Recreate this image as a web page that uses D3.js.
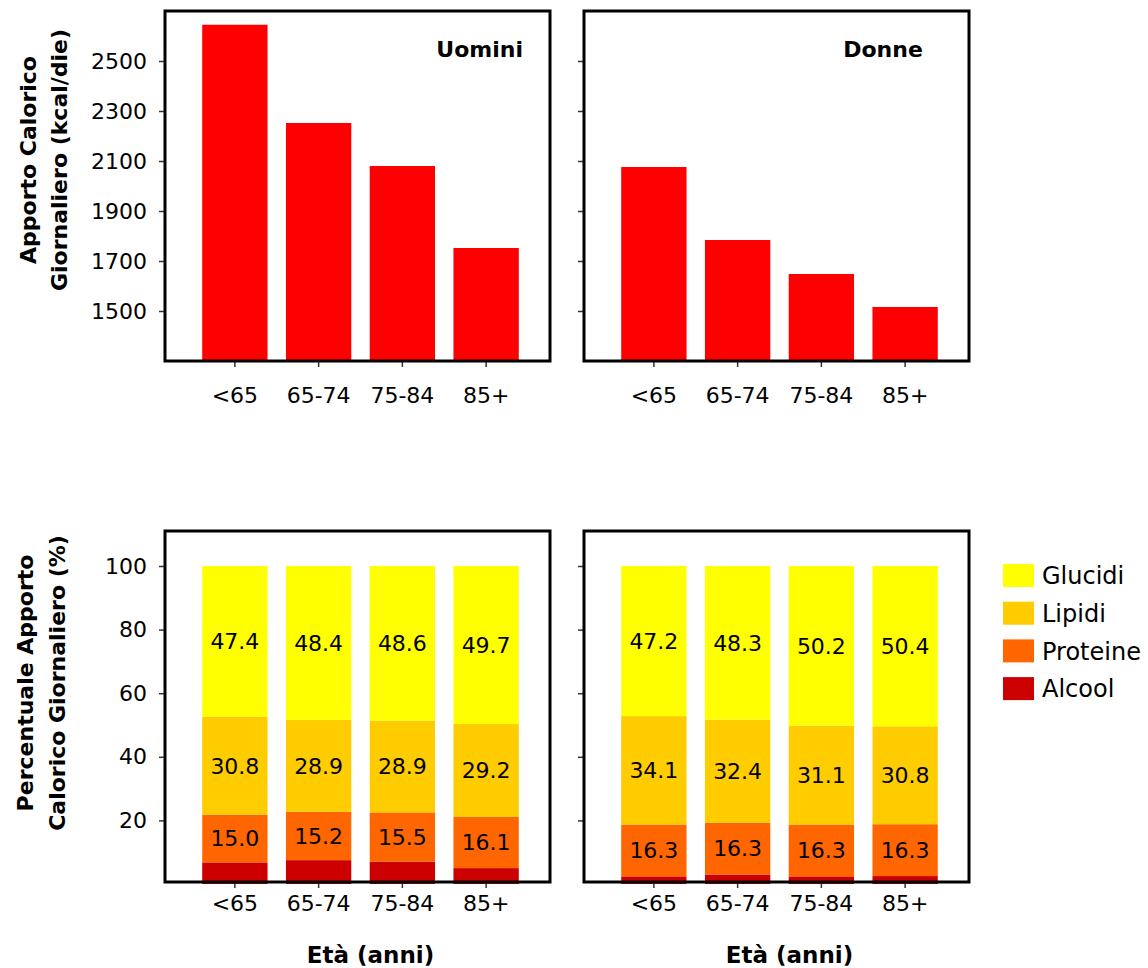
<!DOCTYPE html>
<html>
<head>
<meta charset="utf-8">
<script src="https://cdn.jsdelivr.net/npm/d3@7"></script>
<style>
  body { margin: 0; background: #fff; }
  svg { display: block; }
</style>
</head>
<body>
<svg id="chart" width="1148" height="968"></svg>
<script>
// Age groups on the x axis
const ageGroups = ["<65", "65-74", "75-84", "85+"];

// Daily energy intake (kcal/die)
const kcalMen   = [2645, 2252, 2080, 1752];
const kcalWomen = [2076, 1784, 1648, 1516];
const kcalTicks = [1500, 1700, 1900, 2100, 2300, 2500];

// Share of daily energy intake by source (%), stacked bottom-up
const nutrients = ["Alcool", "Proteine", "Lipidi", "Glucidi"];
const alcoolMen    = [6.8, 7.5, 7.0, 5.0];
const proteineMen  = [15.0, 15.2, 15.5, 16.1];
const lipidiMen    = [30.8, 28.9, 28.9, 29.2];
const glucidiMen   = [47.4, 48.4, 48.6, 49.7];
const alcoolWomen   = [2.4, 3.0, 2.4, 2.5];
const proteineWomen = [16.3, 16.3, 16.3, 16.3];
const lipidiWomen   = [34.1, 32.4, 31.1, 30.8];
const glucidiWomen  = [47.2, 48.3, 50.2, 50.4];
const pctTicks = [20, 40, 60, 80, 100];

const nutrientColor = d3.scaleOrdinal()
  .domain(nutrients)
  .range(["#cc0000", "#ff6600", "#ffcc00", "#ffff00"]);
const labelled = new Set(["Proteine", "Lipidi", "Glucidi"]);

const svg = d3.select("#chart");
svg.append("rect").attr("width", 1148).attr("height", 968).attr("fill", "#fff");

const tickFont = "Verdana, 'DejaVu Sans', sans-serif";
const titleFont = "'Comic Sans MS', 'DejaVu Sans', sans-serif";

const panelsX = [{ x0: 165, x1: 550 }, { x0: 584, x1: 969 }];
const topY = { y0: 11, y1: 361 };
const botY = { y0: 531, y1: 882 };

function bandFor(p) {
  return d3.scaleBand(ageGroups, [p.x0 + 28, p.x0 + 363])
    .paddingInner(0.22).paddingOuter(0.11);
}

function styleAxis(g, fontSize) {
  g.select(".domain").remove();
  g.selectAll(".tick line").attr("stroke", "#333").attr("stroke-width", 1.5);
  g.selectAll(".tick text")
    .attr("fill", "#000")
    .style("font-family", tickFont)
    .style("font-size", fontSize + "px");
}

function frame(p, yr) {
  svg.append("rect")
    .attr("x", p.x0).attr("y", yr.y0)
    .attr("width", p.x1 - p.x0).attr("height", yr.y1 - yr.y0)
    .attr("fill", "none").attr("stroke", "#000").attr("stroke-width", 3);
}

// ---------- Top row: energy intake ----------
const yKcal = d3.scaleLinear([1300, 2700], [topY.y1, topY.y0]);
[kcalMen, kcalWomen].forEach((vals, i) => {
  const p = panelsX[i];
  const x = bandFor(p);
  svg.append("g").selectAll("rect")
    .data(ageGroups.map((g, j) => ({ g, v: vals[j] })))
    .join("rect")
    .attr("x", d => x(d.g))
    .attr("width", x.bandwidth())
    .attr("y", d => yKcal(d.v))
    .attr("height", d => yKcal(1300) - yKcal(d.v))
    .attr("fill", "#ff0000");

  const ay = svg.append("g").attr("transform", `translate(${p.x0},0)`)
    .call(d3.axisLeft(yKcal).tickValues(kcalTicks).tickSize(6).tickPadding(12)
      .tickFormat(i === 0 ? d3.format("d") : () => ""));
  styleAxis(ay, 22);

  const ax = svg.append("g").attr("transform", `translate(0,${topY.y1})`)
    .call(d3.axisBottom(x).tickSize(6).tickPadding(20));
  styleAxis(ax, 22);

  frame(p, topY);
});

svg.append("text").attr("x", 523).attr("y", 57).attr("text-anchor", "end")
  .style("font-family", titleFont).style("font-weight", "bold").style("font-size", "22px")
  .text("Uomini");
svg.append("text").attr("x", 883).attr("y", 57).attr("text-anchor", "middle")
  .style("font-family", titleFont).style("font-weight", "bold").style("font-size", "22px")
  .text("Donne");

// ---------- Bottom row: energy share by source ----------
const yPct = d3.scaleLinear([0, 100], [884, 566]);
const shares = [
  { Alcool: alcoolMen, Proteine: proteineMen, Lipidi: lipidiMen, Glucidi: glucidiMen },
  { Alcool: alcoolWomen, Proteine: proteineWomen, Lipidi: lipidiWomen, Glucidi: glucidiWomen }
];

shares.forEach((s, i) => {
  const p = panelsX[i];
  const x = bandFor(p);
  const rows = ageGroups.map((g, j) => {
    const r = { g };
    nutrients.forEach(n => { r[n] = s[n][j]; });
    return r;
  });
  const series = d3.stack().keys(nutrients)(rows);

  const layer = svg.append("g").selectAll("g")
    .data(series)
    .join("g")
    .attr("fill", d => nutrientColor(d.key));

  layer.selectAll("rect")
    .data(d => d)
    .join("rect")
    .attr("x", d => x(d.data.g))
    .attr("width", x.bandwidth())
    .attr("y", d => yPct(d[1]))
    .attr("height", d => yPct(d[0]) - yPct(d[1]));

  svg.append("g").selectAll("g")
    .data(series.filter(d => labelled.has(d.key)))
    .join("g")
    .selectAll("text")
    .data(d => d.map(seg => ({ seg, key: d.key })))
    .join("text")
    .attr("x", d => x(d.seg.data.g) + x.bandwidth() / 2)
    .attr("y", d => yPct((d.seg[0] + d.seg[1]) / 2))
    .attr("dy", "0.36em")
    .attr("text-anchor", "middle")
    .style("font-family", titleFont)
    .style("font-size", "22px")
    .text(d => d3.format(".1f")(d.seg.data[d.key]));

  const ay = svg.append("g").attr("transform", `translate(${p.x0},0)`)
    .call(d3.axisLeft(yPct).tickValues(pctTicks).tickSize(6).tickPadding(12)
      .tickFormat(i === 0 ? d3.format("d") : () => ""));
  styleAxis(ay, 22);

  const ax = svg.append("g").attr("transform", `translate(0,${botY.y1})`)
    .call(d3.axisBottom(x).tickSize(6).tickPadding(7));
  styleAxis(ax, 22);

  frame(p, botY);

  svg.append("text")
    .attr("x", (p.x0 + p.x1) / 2 + 13).attr("y", 963)
    .attr("text-anchor", "middle")
    .style("font-family", titleFont).style("font-weight", "bold").style("font-size", "23px")
    .text("Età (anni)");
});

// ---------- Y axis titles ----------
function yTitle(lines, xs, cy) {
  lines.forEach((t, k) => {
    svg.append("text")
      .attr("transform", `translate(${xs[k]},${cy}) rotate(-90)`)
      .attr("text-anchor", "middle")
      .attr("dominant-baseline", "central")
      .style("font-family", titleFont).style("font-weight", "bold").style("font-size", "22px")
      .text(t);
  });
}
yTitle(["Apporto Calorico", "Giornaliero (kcal/die)"], [28, 59], 160);
yTitle(["Percentuale Apporto", "Calorico Giornaliero (%)"], [25, 57], 683);

// ---------- Legend ----------
const legendItems = nutrients.slice().reverse();
const legend = svg.append("g").selectAll("g")
  .data(legendItems)
  .join("g")
  .attr("transform", (d, k) => `translate(1003,${564 + k * 37.7})`);
legend.append("rect")
  .attr("width", 31).attr("height", 23)
  .attr("fill", d => nutrientColor(d));
legend.append("text")
  .attr("x", 39).attr("y", 11.5).attr("dy", "0.36em")
  .style("font-family", titleFont).style("font-size", "24px")
  .text(d => d);
</script>
</body>
</html>
